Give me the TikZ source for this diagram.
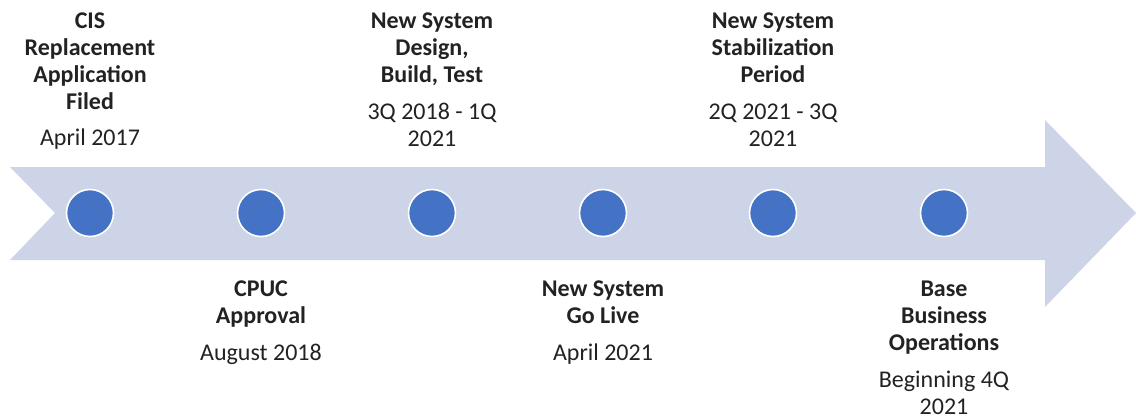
\documentclass[tikz,border=0pt]{standalone}
\usepackage{fontspec}
\setmainfont{Carlito}
\definecolor{band}{HTML}{CDD4E8}
\definecolor{dot}{HTML}{4472C4}
\definecolor{txt}{HTML}{222222}
\begin{document}
\begin{tikzpicture}[x=1pt,y=-1pt,
  ln/.style={anchor=base,inner sep=0pt,text=txt,font=\fontsize{24}{27}\selectfont},
  tl/.style={ln,font=\fontsize{24}{27}\selectfont\bfseries},
  milestone/.style={circle,fill=dot,draw=white,line width=1.6pt,minimum size=47pt,inner sep=0pt}]
\useasboundingbox (0,0) rectangle (1136,418);
% arrow
\fill[band] (10,167) -- (1045,167) -- (1045,120) -- (1136,213) -- (1045,307) -- (1045,260) -- (10,260) -- (55,213) -- cycle;
% dots
\foreach \i/\x in {1/90,2/261,3/432,4/603,5/773,6/944}{
  \node[milestone] (m\i) at (\x,213) {};
}
% column 1 (top)
\node[tl] (t1a) at (90,28) {CIS};
\node[tl] (t1b) at (90,55) {Replacement};
\node[tl] (t1c) at (90,82) {Application};
\node[tl] (t1d) at (90,109) {Filed};
\node[ln] (d1a) at (90,145) {April 2017};
% column 3 (top)
\node[tl] (t3a) at (432,28) {New System};
\node[tl] (t3b) at (432,55) {Design,};
\node[tl] (t3c) at (432,82) {Build, Test};
\node[ln] (d3a) at (432,119) {3Q 2018 - 1Q};
\node[ln] (d3b) at (432,146) {2021};
% column 5 (top)
\node[tl] (t5a) at (773,28) {New System};
\node[tl] (t5b) at (773,55) {Stabilization};
\node[tl] (t5c) at (773,82) {Period};
\node[ln] (d5a) at (773,119) {2Q 2021 - 3Q};
\node[ln] (d5b) at (773,146) {2021};
% column 2 (bottom)
\node[tl] (t2a) at (261,296) {CPUC};
\node[tl] (t2b) at (261,323) {Approval};
\node[ln] (d2a) at (261,360) {August 2018};
% column 4 (bottom)
\node[tl] (t4a) at (603,296) {New System};
\node[tl] (t4b) at (603,323) {Go Live};
\node[ln] (d4a) at (603,360) {April 2021};
% column 6 (bottom)
\node[tl] (t6a) at (944,296) {Base};
\node[tl] (t6b) at (944,323) {Business};
\node[tl] (t6c) at (944,350) {Operations};
\node[ln] (d6a) at (944,387) {Beginning 4Q};
\node[ln] (d6b) at (944,414) {2021};
\end{tikzpicture}
\end{document}
